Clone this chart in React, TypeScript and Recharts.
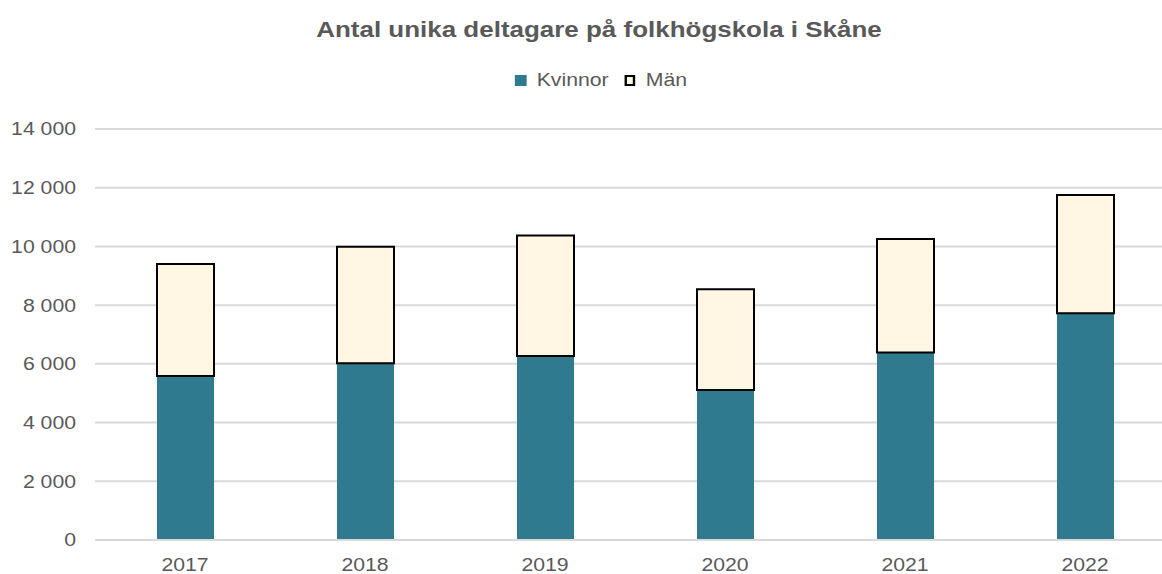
import React from 'react';
import { BarChart, Bar, XAxis, YAxis, CartesianGrid } from 'recharts';

const years = ['2017', '2018', '2019', '2020', '2021', '2022'];
const kvinnor = [5590, 6020, 6270, 5110, 6390, 7720];
const man = [3810, 3970, 4100, 3430, 3860, 4030];
const yTicks = [0, 2000, 4000, 6000, 8000, 10000, 12000, 14000];

const TEAL = '#2F7A8E';
const CREAM = '#FFF7E4';
const TEXT = '#595959';
const FONT = '"Liberation Sans", Arial, sans-serif';
const SX = 1.18; // texten i originalet är lite bredare

const data = years.map((y, i) => ({ year: y, kvinnor: kvinnor[i], man: man[i] }));

const fmt = (v: number) => v.toLocaleString('sv-SE').replace(/[\u00a0\u202f]/g, ' ');

const YTick = ({ x, y, payload }: any) => (
    <text transform={`translate(${x},${y}) scale(${SX},1)`} textAnchor="end" dy="0.355em"
        fill={TEXT} fontSize={18} fontFamily={FONT}>
        {fmt(payload.value)}
    </text>
);

const XTick = ({ x, y, payload }: any) => (
    <text transform={`translate(${x},${y}) scale(${SX},1)`} textAnchor="middle" dy="0.71em"
        fill={TEXT} fontSize={18} fontFamily={FONT}>
        {payload.value}
    </text>
);

export default function App() {
    return (
        <div style={{ position: 'absolute', left: 0, top: 0, width: 1162, height: 574, overflow: 'hidden', background: '#fff', fontFamily: FONT }}>
            {/* titel */}
            <div style={{ position: 'absolute', top: 17, left: 599, whiteSpace: 'nowrap', transform: `translateX(-50%) scaleX(${SX})`, fontSize: 22, fontWeight: 'bold', color: TEXT }}>
                Antal unika deltagare på folkhögskola i Skåne
            </div>

            {/* legend */}
            <div style={{ position: 'absolute', top: 70, left: 601, whiteSpace: 'nowrap', transform: `translateX(-50%) scaleX(${SX})`, display: 'flex', alignItems: 'center', fontSize: 18, color: TEXT }}>
                <span style={{ display: 'inline-block', flexShrink: 0, width: 9.5, height: 11, background: TEAL, marginRight: 9 }} />
                <span style={{ marginRight: 13 }}>Kvinnor</span>
                <span style={{ display: 'inline-block', flexShrink: 0, boxSizing: 'border-box', width: 9.5, height: 11, background: CREAM, border: '2px solid #000', marginRight: 9 }} />
                <span>Män</span>
            </div>

            <div style={{ position: 'absolute', left: 0, top: 0 }}>
                <BarChart width={1175} height={574} data={data} margin={{ top: 129, right: 0, left: 0, bottom: 4 }}>
                    <CartesianGrid vertical={false} stroke="#D9D9D9" strokeWidth={2} />
                    <XAxis
                        dataKey="year"
                        axisLine={{ stroke: '#D9D9D9', strokeWidth: 2 }}
                        tickLine={false}
                        height={30}
                        tickMargin={12}
                        tick={<XTick />}
                    />
                    <YAxis
                        width={95}
                        domain={[0, 14000]}
                        ticks={yTicks}
                        axisLine={false}
                        tickLine={false}
                        tickSize={0}
                        tickMargin={19}
                        tick={<YTick />}
                    />
                    <Bar dataKey="kvinnor" stackId="a" fill={TEAL} barSize={57} isAnimationActive={false} />
                    <Bar dataKey="man" stackId="a" fill={CREAM} stroke="#000" strokeWidth={2} barSize={57} isAnimationActive={false} />
                </BarChart>
            </div>
        </div>
    );
}
